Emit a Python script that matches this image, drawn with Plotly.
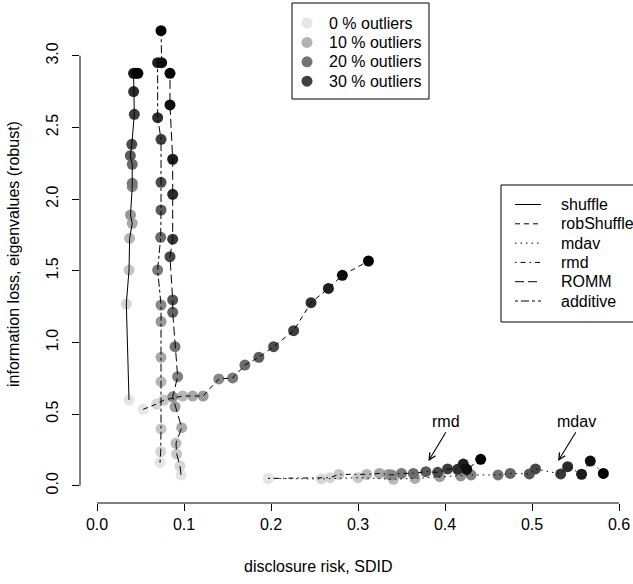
import plotly.graph_objects as go

# ---------------- data ----------------
shuffle_x = [0.0368, 0.0337, 0.0368, 0.0375, 0.0405, 0.0385, 0.0405, 0.0405, 0.0405, 0.0383, 0.0400, 0.0429, 0.0421, 0.0420, 0.0445, 0.0470]
shuffle_y = [0.598, 1.268, 1.505, 1.726, 1.831, 1.889, 2.087, 2.110, 2.243, 2.303, 2.382, 2.592, 2.750, 2.878, 2.878, 2.878]

robShuffle_x = [0.053, 0.0686, 0.077, 0.0985, 0.110, 0.122, 0.140, 0.156, 0.170, 0.186, 0.203, 0.226, 0.246, 0.266, 0.282, 0.312]
robShuffle_y = [0.533, 0.570, 0.598, 0.626, 0.626, 0.626, 0.745, 0.752, 0.842, 0.896, 0.970, 1.082, 1.277, 1.377, 1.468, 1.568]

mdav_x = [0.197, 0.258, 0.300, 0.3406, 0.3655, 0.394, 0.418, 0.430, 0.461, 0.475, 0.497, 0.504, 0.533, 0.541, 0.557, 0.567, 0.582]
mdav_y = [0.051, 0.047, 0.056, 0.045, 0.051, 0.063, 0.068, 0.075, 0.075, 0.086, 0.082, 0.117, 0.082, 0.133, 0.080, 0.172, 0.086]

rmd_x = [0.197, 0.268, 0.278, 0.310, 0.3245, 0.335, 0.3387, 0.350, 0.3636, 0.378, 0.3916, 0.403, 0.4146, 0.421, 0.425, 0.441]
rmd_y = [0.051, 0.056, 0.079, 0.079, 0.086, 0.079, 0.075, 0.086, 0.086, 0.098, 0.093, 0.117, 0.114, 0.151, 0.114, 0.184]

ROMM_x = [0.0966, 0.0954, 0.0916, 0.0908, 0.0973, 0.0897, 0.0870, 0.0927, 0.0897, 0.0870, 0.0870, 0.0839, 0.0870, 0.0870, 0.0870, 0.0839, 0.0839]
ROMM_y = [0.075, 0.137, 0.221, 0.296, 0.405, 0.551, 0.620, 0.761, 0.970, 1.210, 1.296, 1.598, 1.720, 2.033, 2.278, 2.657, 2.878]

additive_x = [0.0724, 0.0732, 0.0736, 0.0736, 0.0736, 0.0736, 0.0736, 0.0697, 0.0732, 0.0736, 0.0736, 0.0736, 0.0697, 0.0697, 0.0743, 0.0736]
additive_y = [0.161, 0.237, 0.396, 0.726, 0.896, 1.145, 1.261, 1.505, 1.733, 1.924, 2.117, 2.417, 2.568, 2.952, 2.952, 3.175]

methods = ["shuffle", "robShuffle", "mdav", "rmd", "ROMM", "additive"]
method_x = [shuffle_x, robShuffle_x, mdav_x, rmd_x, ROMM_x, additive_x]
method_y = [shuffle_y, robShuffle_y, mdav_y, rmd_y, ROMM_y, additive_y]
method_dash = ["solid", "5px,4px", "1.5px,4px", "1.5px,4px,5px,4px", "9px,4px", "3px,3px,8px,3px"]

outlier_labels = ["0 % outliers", "10 % outliers", "20 % outliers", "30 % outliers"]
outlier_colors = ["#e6e6e6", "#b3b3b3", "#737373", "#404040"]

x_ticks = [0.0, 0.1, 0.2, 0.3, 0.4, 0.5, 0.6]
x_ticktext = ["0.0", "0.1", "0.2", "0.3", "0.4", "0.5", "0.6"]
y_ticks = [0.0, 0.5, 1.0, 1.5, 2.0, 2.5, 3.0]
y_ticktext = ["0.0", "0.5", "1.0", "1.5", "2.0", "2.5", "3.0"]

label_text = ["rmd", "mdav"]
label_x = [0.4008, 0.5514]
label_y = [0.447, 0.447]
arrow_tail_x = [0.402, 0.5514]
arrow_tail_y = [0.384, 0.384]
arrow_tip_x = [0.381, 0.530]
arrow_tip_y = [0.172, 0.172]

FONT = "Liberation Sans, Arial, Helvetica, sans-serif"
FS = 16

# ---------------- geometry ----------------
W, H = 633, 584
ML, MR, MT, MB = 80, 5, 4, 81
PW, PH = W - ML - MR, H - MT - MB


def px_x(p):
    return (p - ML) / PW


def px_y(p):
    return (H - MB - p) / PH


def grays(n):
    out = []
    for i in range(n):
        v = int(round(229 * (1 - i / (n - 1))))
        out.append("#%02x%02x%02x" % (v, v, v))
    return out


fig = go.Figure()
for name, xs, ys, dash in zip(methods, method_x, method_y, method_dash):
    fig.add_trace(go.Scatter(x=xs, y=ys, mode="markers", showlegend=False,
                             marker=dict(size=11, color=grays(len(xs)), line=dict(width=0)),
                             hoverinfo="skip"))
for name, xs, ys, dash in zip(methods, method_x, method_y, method_dash):
    fig.add_trace(go.Scatter(x=xs, y=ys, mode="lines", name=name, showlegend=False,
                             line=dict(color="black", width=1, dash=dash)))

shapes = []
annotations = []

# axis lines (R style: only between first and last tick)
shapes.append(dict(type="line", xref="x", yref="paper", x0=x_ticks[0], x1=x_ticks[-1], y0=0, y1=0,
                   line=dict(color="black", width=1)))
shapes.append(dict(type="line", xref="paper", yref="y", x0=0, x1=0, y0=y_ticks[0], y1=y_ticks[-1],
                   line=dict(color="black", width=1)))

# legend 1: outliers
shapes.append(dict(type="rect", xref="paper", yref="paper", x0=px_x(292), x1=px_x(429),
                   y0=px_y(99), y1=px_y(3), line=dict(color="black", width=1), fillcolor="white"))
for i, (lab, col) in enumerate(zip(outlier_labels, outlier_colors)):
    yy = 23 + i * 19.4
    shapes.append(dict(type="circle", xref="paper", yref="paper", xsizemode="pixel", ysizemode="pixel",
                       xanchor=px_x(307), yanchor=px_y(yy), x0=-5.5, x1=5.5, y0=-5.5, y1=5.5,
                       fillcolor=col, line=dict(width=0)))
    annotations.append(dict(xref="paper", yref="paper", x=px_x(327), y=px_y(yy), text=lab,
                            showarrow=False, xanchor="left", yanchor="middle",
                            font=dict(family=FONT, size=FS, color="black")))

# legend 2: methods
shapes.append(dict(type="rect", xref="paper", yref="paper", x0=px_x(501), x1=px_x(645),
                   y0=px_y(322), y1=px_y(185), line=dict(color="black", width=1), fillcolor="white"))
for i, (name, dash) in enumerate(zip(methods, method_dash)):
    yy = 204.5 + i * 19.3
    shapes.append(dict(type="line", xref="paper", yref="paper", x0=px_x(515), x1=px_x(541),
                       y0=px_y(yy), y1=px_y(yy), line=dict(color="black", width=1, dash=dash)))
    annotations.append(dict(xref="paper", yref="paper", x=px_x(559), y=px_y(yy), text=name,
                            showarrow=False, xanchor="left", yanchor="middle",
                            font=dict(family=FONT, size=FS, color="black")))

# rmd / mdav labels with arrows
for t, lx, ly, tx, ty, hx, hy in zip(label_text, label_x, label_y, arrow_tail_x, arrow_tail_y,
                                      arrow_tip_x, arrow_tip_y):
    annotations.append(dict(x=lx, y=ly, xref="x", yref="y", text=t, showarrow=False,
                            xanchor="center", yanchor="middle",
                            font=dict(family=FONT, size=FS, color="black")))
    annotations.append(dict(x=hx, y=hy, xref="x", yref="y", ax=tx, ay=ty, axref="x", ayref="y",
                            text="", showarrow=True, arrowhead=5, arrowsize=1.2, arrowwidth=1.1,
                            arrowcolor="black", standoff=0, startstandoff=0))

# axis titles
annotations.append(dict(xref="paper", yref="paper", x=px_x(318), y=px_y(566),
                        text="disclosure risk, SDID", showarrow=False, xanchor="center", yanchor="middle",
                        font=dict(family=FONT, size=FS, color="black")))
annotations.append(dict(xref="paper", yref="paper", x=px_x(13), y=px_y(254),
                        text="information loss, eigenvalues (robust)", showarrow=False, textangle=-90,
                        xanchor="center", yanchor="middle",
                        font=dict(family=FONT, size=FS, color="black")))

x_lo = (ML - 97) / 870.0
x_hi = (W - MR - 97) / 870.0
y_lo = (485.7 - (H - MB)) / 143.3
y_hi = (485.7 - MT) / 143.3

fig.update_layout(
    width=W, height=H,
    margin=dict(l=ML, r=MR, t=MT, b=MB, pad=0),
    plot_bgcolor="white", paper_bgcolor="white",
    showlegend=False,
    shapes=shapes, annotations=annotations,
    font=dict(family=FONT, size=FS, color="black"),
    xaxis=dict(range=[x_lo, x_hi], showgrid=False, zeroline=False, showline=False,
               tickmode="array", tickvals=x_ticks, ticktext=x_ticktext,
               ticks="outside", ticklen=7, tickwidth=1, tickcolor="black",
               tickfont=dict(family=FONT, size=FS, color="black")),
    yaxis=dict(range=[y_lo, y_hi], showgrid=False, zeroline=False, showline=False,
               tickmode="array", tickvals=y_ticks, ticktext=y_ticktext, tickangle=-90,
               ticks="outside", ticklen=7, tickwidth=1, tickcolor="black",
               ticklabelstandoff=8,
               tickfont=dict(family=FONT, size=FS, color="black")),
)

fig.write_html("out.html")
